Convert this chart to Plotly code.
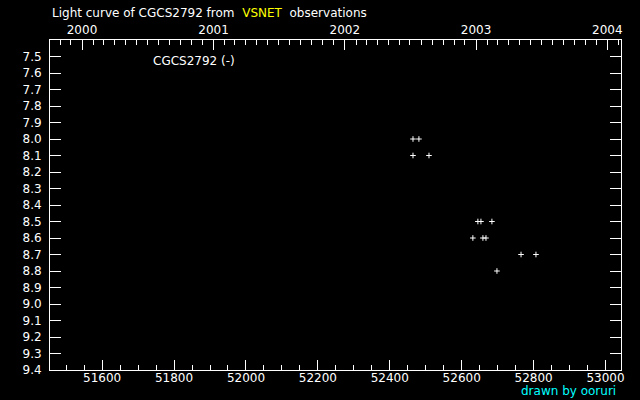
import plotly.graph_objects as go

# Data (MJD, visual magnitude)
mjd = [52464.5, 52481, 52509, 52464.5, 52645, 52653.5, 52684, 52631, 52659, 52667.5, 52765, 52806.5, 52698]
mag = [8.0, 8.0, 8.1, 8.1, 8.5, 8.5, 8.5, 8.6, 8.6, 8.6, 8.7, 8.7, 8.8]

x_range = [51455, 53043]
y_range = [9.4, 7.4]
date_range = ["1999-10-04", "2004-02-08"]
y_ticks = [7.5, 7.6, 7.7, 7.8, 7.9, 8.0, 8.1, 8.2, 8.3, 8.4, 8.5, 8.6, 8.7, 8.8, 8.9,
           9.0, 9.1, 9.2, 9.3, 9.4]
y_tick_labels = ["%.1f" % v for v in y_ticks]

FONT = "DejaVu Sans"

fig = go.Figure()
fig.add_trace(go.Scatter(
    x=mjd, y=mag, mode="markers",
    marker=dict(symbol="cross-thin", size=4, color="white",
                line=dict(color="white", width=1)),
    showlegend=False, hoverinfo="skip"))
# invisible trace to activate top (date) axis
fig.add_trace(go.Scatter(x=date_range, y=[9.4, 9.4], xaxis="x2", mode="markers",
                         marker=dict(opacity=0), showlegend=False, hoverinfo="skip"))

fig.update_layout(
    width=640, height=400,
    margin=dict(l=50, r=19, t=40, b=30),
    paper_bgcolor="black", plot_bgcolor="black",
    font=dict(family=FONT, size=12, color="white"),
    xaxis=dict(range=x_range, showgrid=False, zeroline=False, automargin=False,
               showline=True, linecolor="white", linewidth=1, mirror=False,
               ticks="inside", ticklen=10, tickcolor="white", tickwidth=1,
               dtick=200, tick0=51600, tickformat="d", ticklabelstandoff=-3,
               minor=dict(dtick=50, tick0=51500, ticks="inside", ticklen=5,
                          tickcolor="white", showgrid=False),
               tickfont=dict(family=FONT, size=12, color="white")),
    xaxis2=dict(type="date", range=date_range, overlaying="x", side="top",
                anchor="y", showgrid=False, zeroline=False, automargin=False,
                showline=True, linecolor="white", linewidth=1,
                ticks="inside", ticklen=10, tickcolor="white", tickwidth=1,
                dtick="M12", tick0="2000-01-01", tickformat="%Y",
                minor=dict(dtick="M1", tick0="2000-01-01", ticks="inside", ticklen=5,
                           tickcolor="white", showgrid=False),
                tickfont=dict(family=FONT, size=12, color="white")),
    yaxis=dict(range=y_range, showgrid=False, zeroline=False, automargin=False,
               showline=True, linecolor="white", linewidth=1, mirror="ticks",
               ticks="inside", ticklen=11, tickcolor="white", tickwidth=1,
               tickvals=y_ticks, ticktext=y_tick_labels, ticklabelstandoff=5,
               tickfont=dict(family=FONT, size=12, color="white")),
)

fig.add_annotation(
    text="Light curve of CGCS2792 from\u00a0\u00a0<span style='color:#ffff00'>VSNET</span>\u00a0\u00a0observations",
    xref="paper", yref="paper", x=0, y=(370 - 12.5) / 330,
    xanchor="left", yanchor="middle", showarrow=False,
    font=dict(family=FONT, size=12, color="white"))
fig.add_annotation(
    text="CGCS2792 (-)", xref="paper", yref="paper",
    x=(150.7 - 50.3) / 570.3, y=(370 - 61) / 330,
    xanchor="left", yanchor="middle", showarrow=False,
    font=dict(family=FONT, size=12, color="white"))
fig.add_annotation(
    text="drawn by ooruri", xref="paper", yref="paper",
    x=(618 - 50.3) / 570.3, y=(370 - 391) / 330,
    xanchor="right", yanchor="middle", showarrow=False,
    font=dict(family=FONT, size=12, color="#00ffff"))

fig.write_html("out.html", config={"displayModeBar": False},
               post_script="document.body.style.margin='0';document.body.style.background='black';")
